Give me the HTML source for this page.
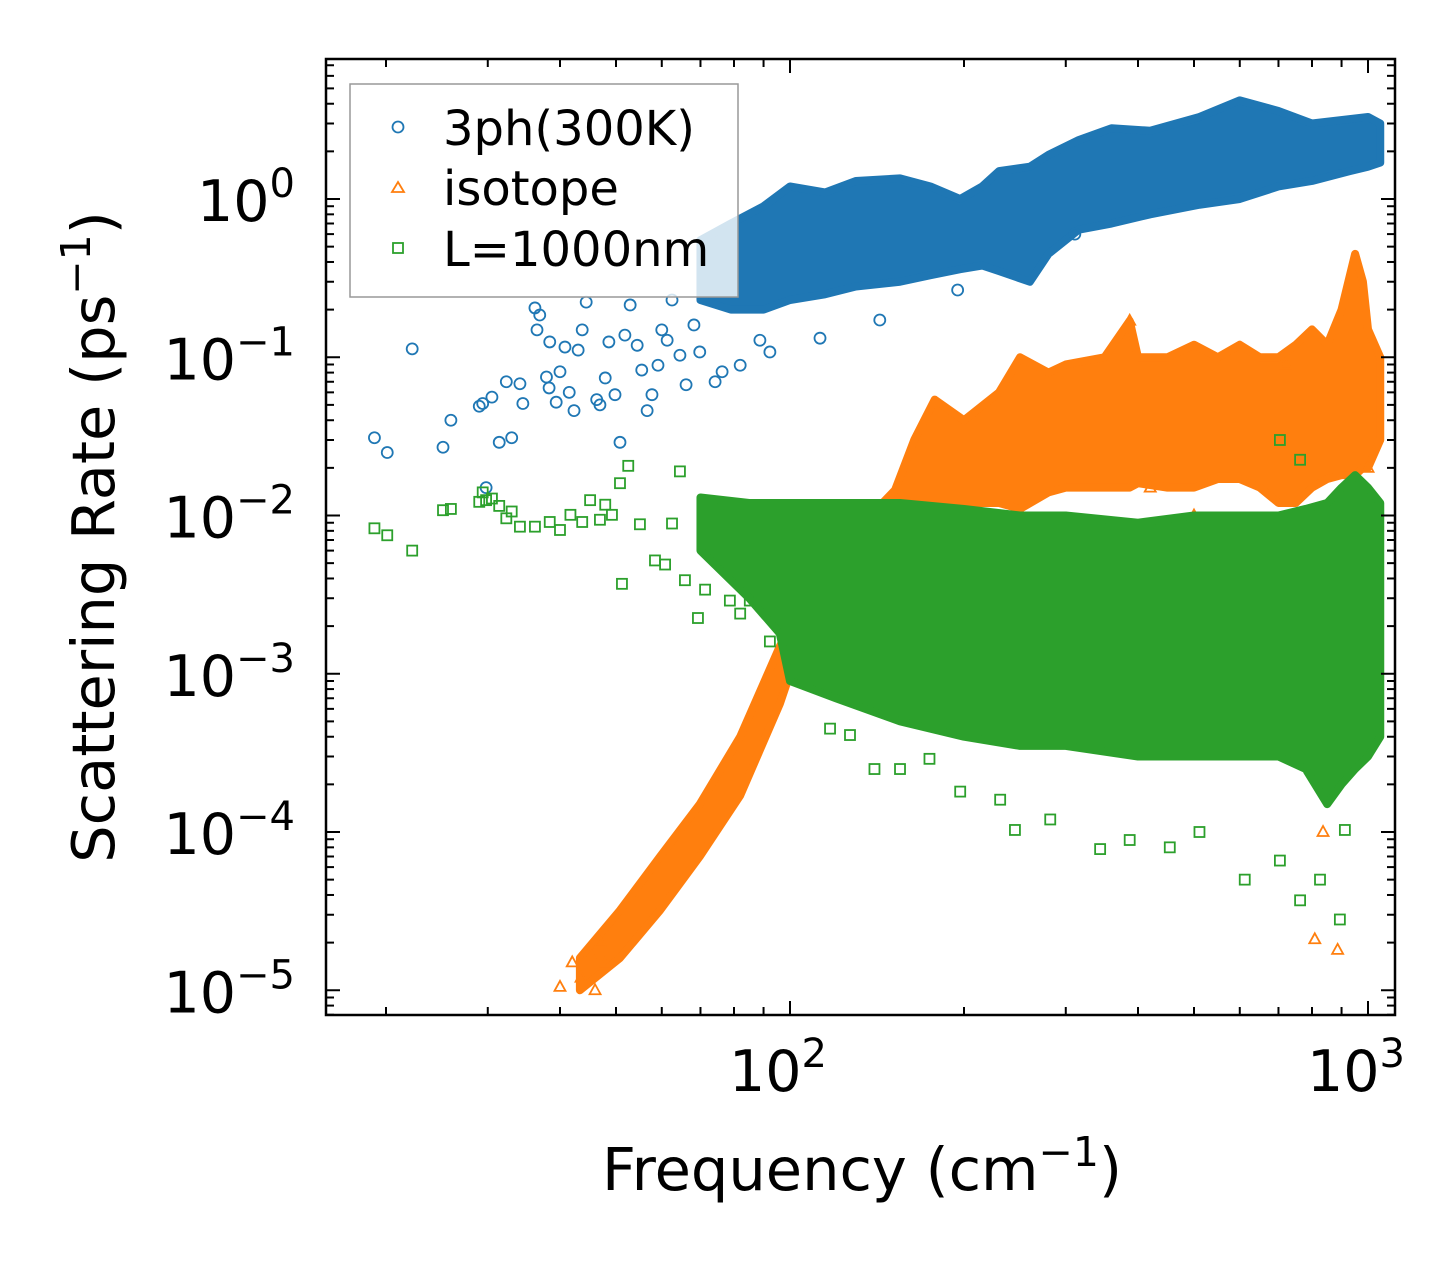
<!DOCTYPE html>
<html><head><meta charset="utf-8"><style>
html,body{margin:0;padding:0;background:#fff;width:1455px;height:1265px;overflow:hidden}
svg text{font-family:"DejaVu Sans","Liberation Sans",sans-serif;fill:#000}
</style></head><body>
<svg id="chart" width="1455" height="1265" viewBox="0 0 1455 1265" xmlns="http://www.w3.org/2000/svg">
<defs><clipPath id="pc"><rect x="326" y="59" width="1069" height="956"/></clipPath></defs>
<g id="bands" clip-path="url(#pc)"></g>
<g id="axes"></g>
<text x="862" y="1190" font-size="59" text-anchor="middle">Frequency (cm<tspan dy="-24" font-size="41">−1</tspan><tspan dy="24">)</tspan></text>
<text transform="translate(114,537) rotate(-90)" font-size="59" text-anchor="middle">Scattering Rate (ps<tspan dy="-24" font-size="41">−1</tspan><tspan dy="24">)</tspan></text>
<g>
<rect x="350" y="84" width="388" height="213" fill="#fff" fill-opacity="0.8" stroke="#999" stroke-width="1.5"/>
<circle cx="398" cy="127" r="5.5" fill="none" stroke="#1f77b4" stroke-width="1.8"/>
<text x="443" y="145" font-size="48">3ph(300K)</text>
<polygon points="398,182 404,192 392,192" fill="none" stroke="#ff7f0e" stroke-width="1.8"/>
<text x="443" y="205" font-size="48">isotope</text>
<rect x="393" y="243" width="10" height="10" fill="none" stroke="#2ca02c" stroke-width="1.8"/>
<text x="443" y="266" font-size="48">L=1000nm</text>
</g>
</svg>
<script>
// ---- data ----
const blueBandF=[70,79,90,100,115,130,155,175,197,215,230,260,280,316,360,420,511,600,700,800,930,1000,1050];
const blueBandLo=[0.23,0.2,0.2,0.23,0.25,0.28,0.3,0.33,0.36,0.38,0.35,0.3,0.45,0.64,0.7,0.8,0.92,1.0,1.2,1.3,1.5,1.6,1.7];
const blueBandHi=[0.55,0.7,0.9,1.2,1.1,1.3,1.35,1.2,1.0,1.2,1.5,1.6,1.9,2.36,2.8,2.7,3.3,4.2,3.6,3.0,3.2,3.3,3.0];
const blueX=[19.1,20.1,22.2,25.1,25.9,29.0,29.4,29.8,30.5,31.4,32.3,33.0,34.1,34.5,36.2,36.5,36.9,37.9,38.3,38.4,39.4,40.0,40.8,41.5,42.3,43.0,43.7,44.4,46.3,46.9,47.9,48.6,49.8,50.8,51.8,52.9,54.4,55.4,56.6,57.7,59.1,60.0,61.3,62.5,64.5,66.1,68.2,69.8,74.2,76.3,82.0,88.7,92.3,112.7,143,195,311];
const blueY=[0.031,0.025,0.113,0.027,0.040,0.049,0.051,0.015,0.056,0.029,0.070,0.031,0.068,0.051,0.205,0.149,0.185,0.075,0.064,0.125,0.052,0.081,0.116,0.060,0.046,0.111,0.149,0.223,0.054,0.050,0.074,0.125,0.058,0.029,0.138,0.214,0.119,0.083,0.046,0.058,0.089,0.149,0.128,0.23,0.103,0.067,0.16,0.108,0.070,0.081,0.089,0.128,0.108,0.132,0.172,0.266,0.60];
const orLowF=[43.3,50.8,59.6,69.8,82.0,96.1,100];
const orLowLo=[1e-5,1.6e-5,3.2e-5,7e-5,1.7e-4,6.5e-4,1.0e-3];
const orLowHi=[1.6e-5,3.2e-5,7e-5,1.5e-4,4e-4,1.5e-3,2.0e-3];
const orBandF=[100,130,152,164,178,200,230,250,280,300,350,387,400,450,500,550,600,650,700,750,800,850,900,950,980,1000,1050];
const orBandLo=[0.002,0.004,0.01,0.011,0.012,0.012,0.012,0.011,0.014,0.015,0.015,0.015,0.016,0.015,0.015,0.017,0.017,0.015,0.012,0.012,0.015,0.017,0.018,0.018,0.02,0.02,0.03];
const orBandHi=[0.004,0.008,0.0145,0.03,0.054,0.04,0.06,0.1,0.08,0.09,0.1,0.17,0.1,0.1,0.12,0.1,0.12,0.1,0.1,0.12,0.15,0.12,0.2,0.45,0.3,0.15,0.1];
const orX=[40,42,43.5,45,46,47,48,809,886,836,800,700,1000,500,450,420,250,387,720];
const orY=[1.05e-5,1.5e-5,1.2e-5,1.7e-5,1e-5,2e-5,1.5e-5,2.1e-5,1.8e-5,1.0e-4,3e-4,5e-4,0.02,0.01,0.007,0.015,0.008,0.17,0.09];
const grBandF=[70,85,96,100,120,155,200,250,300,400,500,600,700,780,850,900,950,1000,1050];
const grBandLo=[0.006,0.003,0.0018,0.0009,0.0007,0.0005,0.0004,0.00035,0.00035,0.0003,0.0003,0.0003,0.0003,0.00025,0.00015,0.0002,0.00025,0.0003,0.0004];
const grBandHi=[0.013,0.012,0.012,0.012,0.012,0.012,0.011,0.01,0.01,0.009,0.01,0.01,0.01,0.011,0.012,0.015,0.018,0.015,0.012];
const grX=[19.1,20.1,22.2,25.1,25.9,29.0,29.4,29.8,30.5,31.4,32.3,33.0,34.1,36.2,38.4,40.0,41.7,43.7,45.1,46.9,47.9,49.2,50.8,51.2,52.5,55.0,58.4,60.8,62.5,64.5,65.8,69.3,71.3,75.7,78.7,82.0,85.2,92.3,117.3,127,140,155,174.3,197,231,245,282,344,387,454,511,612,704,763,826,894,912,704,763];
const grY=[0.0083,0.0075,0.006,0.0108,0.011,0.0122,0.014,0.0125,0.0128,0.0115,0.0096,0.0106,0.0085,0.0085,0.0091,0.0081,0.0101,0.0091,0.0125,0.0094,0.0117,0.0101,0.016,0.0037,0.0206,0.0088,0.0052,0.0049,0.0089,0.019,0.0039,0.00225,0.0034,0.0051,0.0029,0.0024,0.0029,0.0016,0.00045,0.00041,0.00025,0.00025,0.00029,0.00018,0.00016,0.000103,0.00012,0.000078,0.000089,0.00008,0.0001,0.00005,0.000066,0.000037,0.00005,0.000028,0.000103,0.030,0.0225];
const yTickExp=[0,-1,-2,-3,-4,-5];
const xTickExp=[2,3];
// ---- axes ----
const X0=326,X1=1395,Y0=59,Y1=1015;
const xs=f=>790+(Math.log10(f)-2)*578;
const ys=r=>199-Math.log10(r)*158.25;
const NS="http://www.w3.org/2000/svg";
const bands=document.getElementById('bands'),axes=document.getElementById('axes');
function mk(tag,attrs,parent){const e=document.createElementNS(NS,tag);for(const k in attrs)e.setAttribute(k,attrs[k]);parent.appendChild(e);return e;}
function band(F,Lo,Hi,col,name){
  let pts=F.map((f,i)=>xs(f)+','+ys(Hi[i]));
  for(let i=F.length-1;i>=0;i--)pts.push(xs(F[i])+','+ys(Lo[i]));
  const p=mk('polygon',{points:pts.join(' '),fill:col,stroke:col,'stroke-width':8,'stroke-linejoin':'round'},bands);
  
  
}
function marker(type,x,y,col,name){
  let e;
  if(type==='c')e=mk('circle',{cx:x,cy:y,r:5.5,fill:'none',stroke:col,'stroke-width':1.8},bands);
  else if(type==='t')e=mk('polygon',{points:`${x},${y-6} ${x+5.5},${y+4} ${x-5.5},${y+4}`,fill:'none',stroke:col,'stroke-width':1.8},bands);
  else e=mk('rect',{x:x-5,y:y-5,width:10,height:10,fill:'none',stroke:col,'stroke-width':1.8},bands);
  
  
}
const B='#1f77b4',O='#ff7f0e',G='#2ca02c';
band(blueBandF,blueBandLo,blueBandHi,B,'band-3ph');
blueX.forEach((f,i)=>marker('c',xs(f),ys(blueY[i]),B,'point-3ph'));
band(orLowF,orLowLo,orLowHi,O,'band-isotope-low');
band(orBandF,orBandLo,orBandHi,O,'band-isotope');
orX.forEach((f,i)=>marker('t',xs(f),ys(orY[i]),O,'point-isotope'));
band(grBandF,grBandLo,grBandHi,G,'band-boundary');
grX.forEach((f,i)=>marker('s',xs(f),ys(grY[i]),G,'point-boundary'));
// frame
const fr=mk('rect',{x:X0,y:Y0,width:X1-X0,height:Y1-Y0,fill:'none',stroke:'#000','stroke-width':2.5},axes);


function tick(x1,y1,x2,y2){mk('line',{x1,y1,x2,y2,stroke:'#000','stroke-width':2},axes);}
for(let e=1;e>=-6;e--){
  for(let m=1;m<10;m++){
    const y=ys(m*Math.pow(10,e));
    if(y<Y0||y>Y1)continue;
    const L=m===1?14:8;
    tick(X0,y,X0+L,y);tick(X1,y,X1-L,y);
  }
}
yTickExp.forEach(e=>{
  const t=mk('text',{x:295,y:ys(Math.pow(10,e))+22,'font-size':57,'text-anchor':'end'},axes);
  
  
  t.innerHTML='10<tspan dy="-24" font-size="40">'+(e<0?'−'+(-e):e)+'</tspan>';
});
for(let e=1;e<=3;e++){
  for(let m=1;m<10;m++){
    const x=xs(m*Math.pow(10,e));
    if(x<X0||x>X1)continue;
    const L=m===1?14:8;
    tick(x,Y1,x,Y1-L);tick(x,Y0,x,Y0+L);
  }
}
xTickExp.forEach(e=>{
  const t=mk('text',{x:xs(Math.pow(10,e))-12,y:1091,'font-size':57,'text-anchor':'middle'},axes);
  
  
  t.innerHTML='10<tspan dy="-24" font-size="40">'+e+'</tspan>';
});
</script>
</body></html>
